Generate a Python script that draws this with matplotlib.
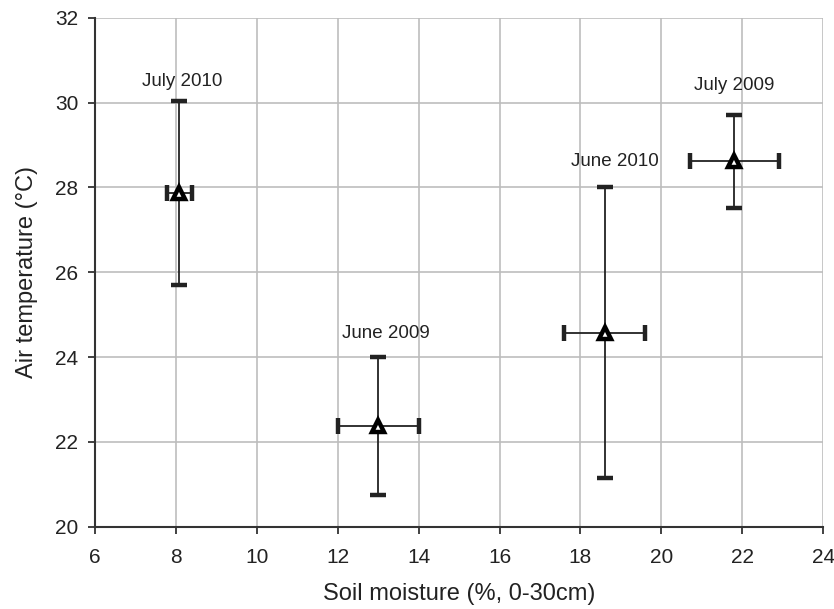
import matplotlib
matplotlib.use("Agg")
import matplotlib.pyplot as plt

plt.rcParams['font.family'] = ['Liberation Sans', 'DejaVu Sans']

# Данные: период, влажность почвы, температура воздуха и их погрешности
periods = ["July 2010", "June 2009", "June 2010", "July 2009"]
moisture = [8.08, 13.0, 18.6, 21.8]
moisture_err = [0.31, 1.0, 1.0, 1.1]
temperature = [27.87, 22.38, 24.57, 28.61]
temperature_err = [2.17, 1.62, 3.43, 1.1]
label_x = [8.15, 13.2, 18.85, 21.8]
label_y = [30.5, 24.55, 28.62, 30.4]

fig = plt.figure(figsize=(8.34, 6.09), dpi=100)
ax = fig.add_axes([0.114, 0.135, 0.873, 0.836])

ax.errorbar(moisture, temperature, xerr=moisture_err, yerr=temperature_err,
            fmt='^', color='#222222', ecolor='#222222', elinewidth=1.3,
            capsize=6, capthick=1.2, markersize=9, markerfacecolor='white',
            markeredgecolor='black', markeredgewidth=3.2, zorder=3)

for name, lx, ly in zip(periods, label_x, label_y):
    ax.text(lx, ly, name, ha='center', va='center', fontsize=13.5, color='#222222')

ax.set_xlim(6, 24)
ax.set_ylim(20, 32)
ax.set_xticks(range(6, 25, 2))
ax.set_yticks(range(20, 33, 2))
ax.grid(True, color='#bdbdbd', linewidth=1.2)
ax.set_axisbelow(True)

ax.spines['top'].set_visible(False)
ax.spines['right'].set_visible(False)
for s in ['left', 'bottom']:
    ax.spines[s].set_color('#333333')
    ax.spines[s].set_linewidth(1.5)
ax.tick_params(direction='out', length=5, width=1.3, color='#333333',
               labelsize=15, labelcolor='#222222')
ax.tick_params(axis='x', pad=10)
ax.tick_params(axis='y', pad=7)

ax.set_xlabel('Soil moisture (%, 0-30cm)', fontsize=17, color='#222222', labelpad=12)
ax.set_ylabel('Air temperature (°C)', fontsize=17, color='#222222', labelpad=12)

fig.savefig('out.png', dpi=100)
